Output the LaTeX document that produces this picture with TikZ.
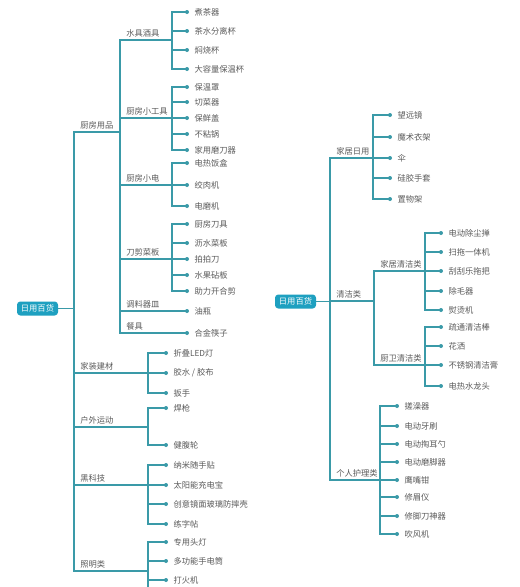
\documentclass[tikz,border=0pt]{standalone}
\usepackage{fontspec}
\newfontfamily\cjk{Noto Sans CJK SC}
\definecolor{linec}{RGB}{58,154,168}
\definecolor{rootc}{RGB}{30,160,192}
\definecolor{txtc}{RGB}{90,90,90}
\tikzset{
  conn/.style={draw=linec, line width=0.9pt, line cap=rect},
  leaf/.style={anchor=west, xshift=5.5pt, inner sep=0pt, text=txtc, font=\cjk\fontsize{6.2}{7}\selectfont},
  cat/.style={anchor=base west, yshift=3pt, inner sep=0pt, text=txtc, font=\cjk\fontsize{6.2}{7}\selectfont},
  rootbox/.style={fill=rootc, text=white, rounded corners=2.5pt, minimum width=30.75pt, minimum height=10.5pt, inner sep=0pt, font=\cjk\fontsize{6.2}{7}\selectfont},
}
\newcommand\mmLeaf[5]{%
  \coordinate (#1-j) at (#2,#4);
  \coordinate (#1-d) at (#3,#4);
  \draw[conn] (#1-j) -- (#1-d);
  \fill[linec] (#1-d) circle[radius=1.5pt];
  \node[leaf] (#1) at (#1-d) {#5};
}
\newcommand\mmBranch[7]{%
  \coordinate (#1-p) at (#2,#4);
  \coordinate (#1-h) at (#3,#4);
  \coordinate (#1-t) at (#3,#6);
  \coordinate (#1-b) at (#3,#7);
  \draw[conn] (#1-p) -- (#1-h);
  \draw[conn] (#1-t) -- (#1-b);
  \node[cat] (#1) at ([xshift=4.5pt]#1-p) {#5};
}
\begin{document}
\begin{tikzpicture}[x=0.75pt,y=-0.75pt]
\useasboundingbox (0,0) rectangle (519,587);
\fill[white] (0,0) rectangle (519,587);

% ---------------- Left tree ----------------
\node[rootbox] (L0) at (37.5,308.5) {日用百货};
\coordinate (LV-t) at (74,132);
\coordinate (LV-b) at (74,571);
\draw[conn] (L0.east) -- (L0.east -| LV-t);
\draw[conn] (LV-t) -- (LV-b);

% 厨房用品
\mmBranch{kit}{74}{120}{132}{厨房用品}{40}{333}
\mmBranch{shui}{120}{172}{40}{水具酒具}{12}{69}
\mmLeaf{a1}{172}{187}{12}{煮茶器}
\mmLeaf{a2}{172}{187}{31}{茶水分离杯}
\mmLeaf{a3}{172}{187}{50}{焖烧杯}
\mmLeaf{a4}{172}{187}{69}{大容量保温杯}
\mmBranch{gj}{120}{172}{118}{厨房小工具}{87}{150}
\mmLeaf{b1}{172}{187}{87}{保温罩}
\mmLeaf{b2}{172}{187}{102}{切菜器}
\mmLeaf{b3}{172}{187}{118}{保鲜盖}
\mmLeaf{b4}{172}{187}{134}{不粘锅}
\mmLeaf{b5}{172}{187}{150}{家用磨刀器}
\mmBranch{xd}{120}{172}{185}{厨房小电}{163}{206}
\mmLeaf{c1}{172}{187}{163}{电热饭盒}
\mmLeaf{c2}{172}{187}{185}{绞肉机}
\mmLeaf{c3}{172}{187}{206}{电磨机}
\mmBranch{dj}{120}{172}{259}{刀剪菜板}{224}{291}
\mmLeaf{d1}{172}{187}{224}{厨房刀具}
\mmLeaf{d2}{172}{187}{243}{沥水菜板}
\mmLeaf{d3}{172}{187}{259}{拍拍刀}
\mmLeaf{d4}{172}{187}{275}{水果砧板}
\mmLeaf{d5}{172}{187}{291}{助力开合剪}
\mmLeaf{e1}{120}{187}{311}{油瓶}
\node[cat] (tl) at ([xshift=4.5pt]e1-j) {调料器皿};
\mmLeaf{f1}{120}{187}{333}{合金筷子}
\node[cat] (cj) at ([xshift=4.5pt]f1-j) {餐具};

% 家装建材
\mmBranch{jz}{74}{148}{373}{家装建材}{353}{393}
\mmLeaf{g1}{148}{166}{353}{折叠LED灯}
\mmLeaf{g2}{148}{166}{373}{胶水 / 胶布}
\mmLeaf{g3}{148}{166}{393}{扳手}
% 户外运动
\mmBranch{hw}{74}{148}{427}{户外运动}{408}{445}
\mmLeaf{h1}{148}{166}{408}{焊枪}
\mmLeaf{h2}{148}{166}{445}{健腹轮}
% 黑科技
\mmBranch{hk}{74}{148}{485}{黑科技}{465}{524}
\mmLeaf{i1}{148}{166}{465}{纳米随手贴}
\mmLeaf{i2}{148}{166}{485}{太阳能充电宝}
\mmLeaf{i3}{148}{166}{504}{创意镜面玻璃防摔壳}
\mmLeaf{i4}{148}{166}{524}{练字帖}
% 照明类
\mmBranch{zm}{74}{148}{571}{照明类}{542}{590}
\mmLeaf{k1}{148}{166}{542}{专用头灯}
\mmLeaf{k2}{148}{166}{561}{多功能手电筒}
\mmLeaf{k3}{148}{166}{580}{打火机}

% ---------------- Right tree ----------------
\node[rootbox] (R0) at (295.5,301.5) {日用百货};
\coordinate (RV-t) at (330,158);
\coordinate (RV-b) at (330,480);
\draw[conn] (R0.east) -- (R0.east -| RV-t);
\draw[conn] (RV-t) -- (RV-b);

\mmBranch{jj}{330}{373}{158}{家居日用}{115}{199}
\mmLeaf{m1}{373}{390}{115}{望远镜}
\mmLeaf{m2}{373}{390}{137}{魔术衣架}
\mmLeaf{m3}{373}{390}{158}{伞}
\mmLeaf{m4}{373}{390}{178}{硅胶手套}
\mmLeaf{m5}{373}{390}{199}{置物架}

\mmBranch{qj}{330}{374}{301}{清洁类}{271}{365}
\mmBranch{jq}{374}{425}{271}{家居清洁类}{233}{310}
\mmLeaf{n1}{425}{441}{233}{电动除尘掸}
\mmLeaf{n2}{425}{441}{252}{扫拖一体机}
\mmLeaf{n3}{425}{441}{271}{刮刮乐拖把}
\mmLeaf{n4}{425}{441}{291}{除毛器}
\mmLeaf{n5}{425}{441}{310}{熨烫机}
\mmBranch{cw}{374}{425}{365}{厨卫清洁类}{327}{386}
\mmLeaf{o1}{425}{441}{327}{疏通清洁棒}
\mmLeaf{o2}{425}{441}{346}{花洒}
\mmLeaf{o3}{425}{441}{365}{不锈钢清洁膏}
\mmLeaf{o4}{425}{441}{386}{电热水龙头}

\mmBranch{gr}{330}{380}{480}{个人护理类}{406}{534}
\mmLeaf{p1}{380}{397}{406}{搓澡器}
\mmLeaf{p2}{380}{397}{426}{电动牙刷}
\mmLeaf{p3}{380}{397}{444}{电动掏耳勺}
\mmLeaf{p4}{380}{397}{462}{电动磨脚器}
\mmLeaf{p5}{380}{397}{480}{鹰嘴钳}
\mmLeaf{p6}{380}{397}{497}{修眉仪}
\mmLeaf{p7}{380}{397}{516}{修脚刀神器}
\mmLeaf{p8}{380}{397}{534}{吹风机}
\end{tikzpicture}
\end{document}
